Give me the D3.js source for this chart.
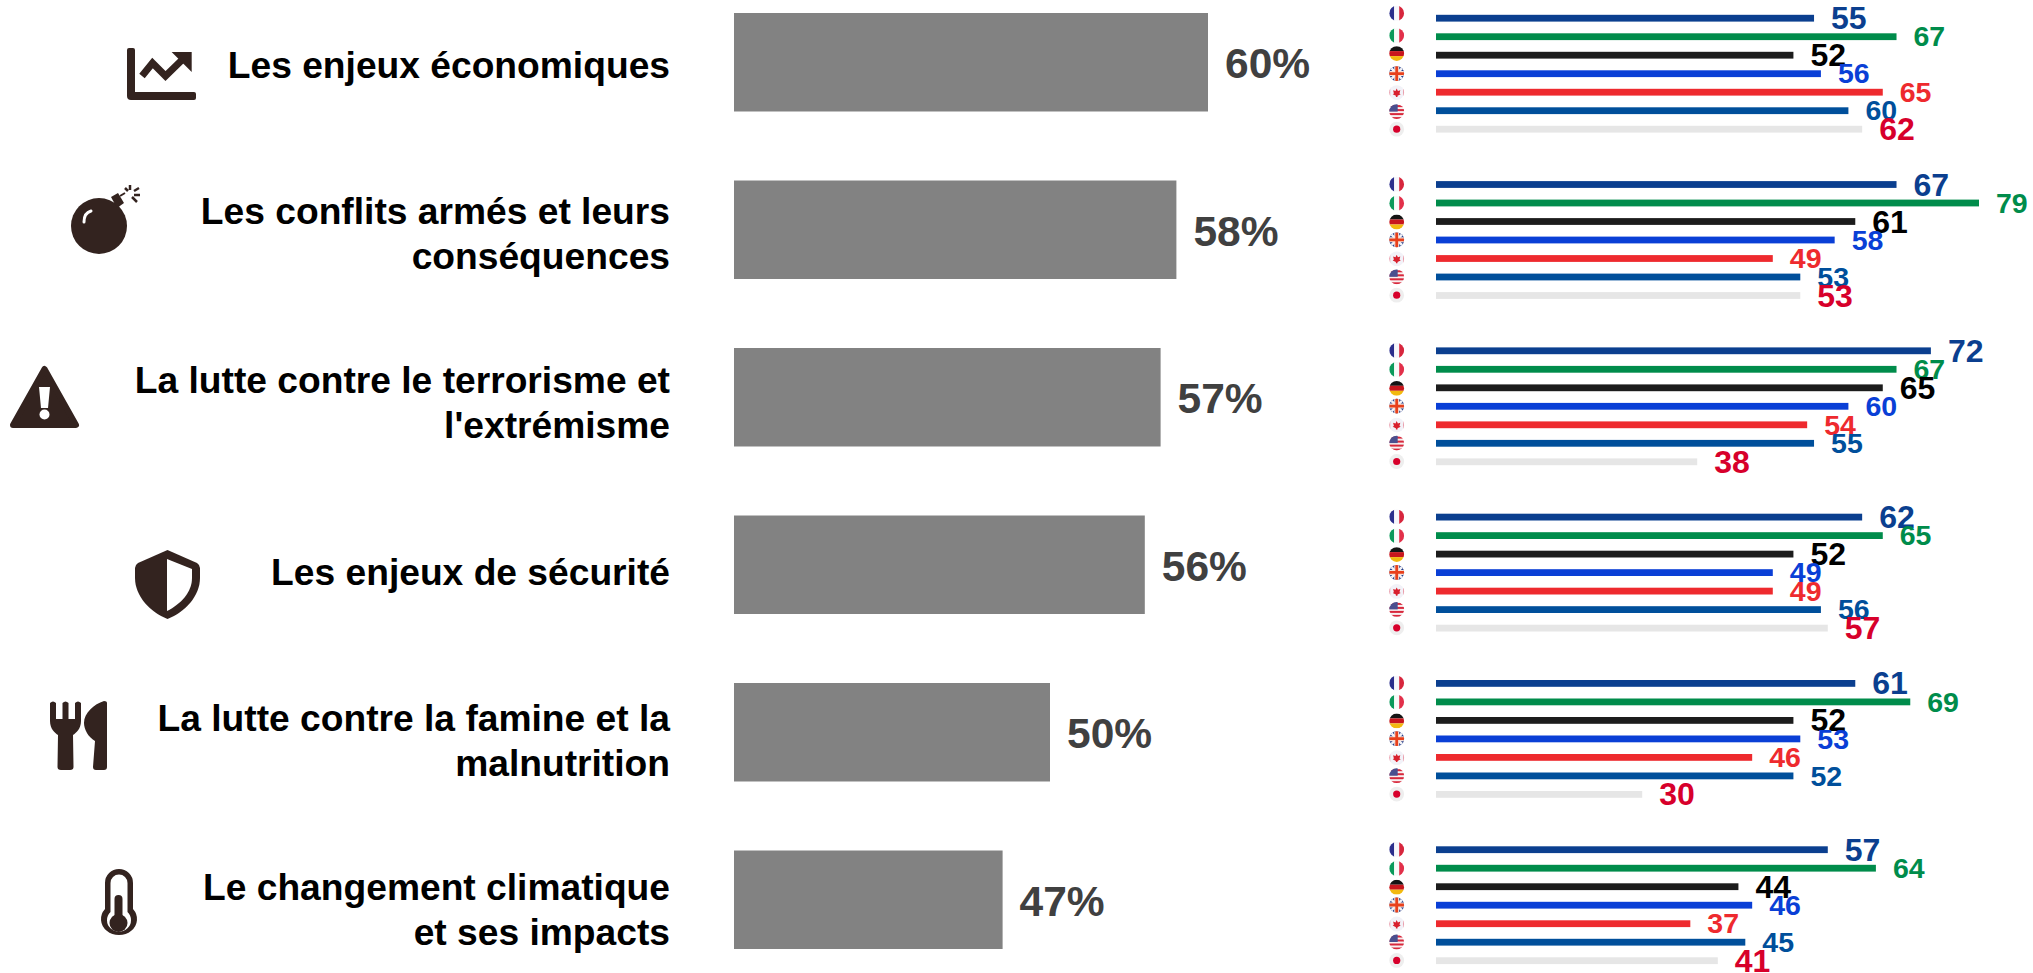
<html>
    <head>
        <title>Enjeux prioritaires</title>
        <script src="https://d3js.org/d3.v7.min.js"></script>
        <style>
            body {
                margin: 0;
                padding: 0;
                background: white;
                overflow: hidden;
            }
            text {
                font-family: "Liberation Sans", Arial, sans-serif;
                font-weight: bold;
            }
        </style>
    </head>
    <body>
        <svg id="chart" width="2033" height="973"></svg>
    </body>
    <script>
        // ---- DATA ----
        const categories = [
            ["Les enjeux économiques"],
            ["Les conflits armés et leurs", "conséquences"],
            ["La lutte contre le terrorisme et", "l'extrémisme"],
            ["Les enjeux de sécurité"],
            ["La lutte contre la famine et la", "malnutrition"],
            ["Le changement climatique", "et ses impacts"]
        ];
        const overall = [60, 58, 57, 56, 50, 47];

        const countries = ["France", "Italie", "Allemagne", "Royaume-Uni", "Canada", "Etats-Unis", "Japon"];
        const france = [55, 67, 72, 62, 61, 57];
        const italie = [67, 79, 67, 65, 69, 64];
        const allemagne = [52, 61, 65, 52, 52, 44];
        const royaumeUni = [56, 58, 60, 49, 53, 46];
        const canada = [65, 49, 54, 49, 46, 37];
        const etatsUnis = [60, 53, 55, 56, 52, 45];
        const japon = [62, 53, 38, 57, 30, 41];
        const seriesValues = [france, italie, allemagne, royaumeUni, canada, etatsUnis, japon];

        // ---- STYLES ----
        const barColors = ["#0b3f8f", "#008c4b", "#1c1c1c", "#0a3fd6", "#ee2a2e", "#004f9b", "#e6e6e6"];
        const labelColors = ["#0b3f8f", "#008c4b", "#000000", "#0a3fd6", "#ee2a2e", "#004f9b", "#d7002b"];
        const labelSizes = [32, 28.5, 32, 28.5, 28.5, 28.5, 32];
        // the first group's flags sit a little higher than the others
        const flagOffsetsFirst = [-5, 17.4, 35.4, 55.4, 74.4, 93.4, 111];
        const flagOffsets = [-0.3, 18.7, 37.5, 55.3, 74.3, 92.3, 110.7];
        const brown = "#33231f";

        const svg = d3.select("#chart");

        // ---- LEFT: ICONS AND LABELS ----
        const icons = [
            { x: 127, y: 48, draw: g => {
                g.append("path").attr("fill", brown)
                    .attr("d", "M0 2 Q0 0 2 0 H6 Q8 0 8 2 V44 H67 Q69 44 69 46 V50 Q69 52 67 52 H4 Q0 52 0 48 Z");
                g.append("path").attr("fill", "none").attr("stroke", brown).attr("stroke-width", 7)
                    .attr("d", "M15 28 L25.5 15 L38.5 28 L57 10");
                g.append("path").attr("fill", brown).attr("d", "M44.6 4 H64.7 V24 Z");
            }},
            { x: 71, y: 185, draw: g => {
                g.append("ellipse").attr("cx", 28).attr("cy", 41).attr("rx", 28).attr("ry", 28).attr("fill", brown);
                g.append("path").attr("fill", brown).attr("d", "M40 12 L47 8 L53 18 L46 23 Z");
                g.append("path").attr("fill", "none").attr("stroke", "white").attr("stroke-width", 3)
                    .attr("stroke-linecap", "round").attr("d", "M13 37 Q13 28 20 26");
                g.append("path").attr("fill", "none").attr("stroke", brown).attr("stroke-width", 2)
                    .attr("d", "M49 11 L54 8");
                g.append("path").attr("fill", "none").attr("stroke", brown).attr("stroke-width", 2.5)
                    .attr("d", "M59 0 V5 M68 3 L63 6 M69 10 H63 M66 17 L61 12 M54 3 L57 6");
            }},
            { x: 10, y: 366, draw: g => {
                g.append("path").attr("fill", brown).attr("stroke", brown).attr("stroke-width", 6)
                    .attr("stroke-linejoin", "round").attr("d", "M34.5 3 L66 59 H3 Z");
                g.append("path").attr("fill", "white").attr("d", "M29 21 H40 L38 42 H31 Z");
                g.append("circle").attr("cx", 34.5).attr("cy", 48.5).attr("r", 5).attr("fill", "white");
            }},
            { x: 135, y: 550, draw: g => {
                g.append("path").attr("fill", brown)
                    .attr("d", "M32.5 0 L62 13 Q65 15 65 18 V28 C65 46 50 62 32.5 69 C15 62 0 46 0 28 V18 Q0 15 3 13 Z");
                g.append("path").attr("fill", "white")
                    .attr("d", "M32 9 L57 19 V28 C57 42 46 54 32 61 Z");
            }},
            { x: 50, y: 701, draw: g => {
                g.append("path").attr("fill", brown)
                    .attr("d", "M0 2 Q3 -1 6 2 V18 H12.5 V2 Q15.5 -1 18.5 2 V18 H25 V2 Q28 -1 31 2 V20 C31 28 26 32 23 34 L23.5 66 Q23.5 69 20 69 H11 Q7.5 69 7.5 66 L8 34 C5 32 0 28 0 20 Z");
                g.append("path").attr("fill", brown)
                    .attr("d", "M57 2 V66 Q57 69 54 69 H46 Q43 69 43 66 L45 40 C38 36 34 28 34 22 C34 12 44 3 54 0 Q57 0 57 2 Z");
            }},
            { x: 101, y: 869, draw: g => {
                g.append("path").attr("fill", brown)
                    .attr("d", "M4 40 V14 A14 14 0 0 1 32 14 V40 A18 16 0 1 1 4 40 Z");
                g.append("path").attr("fill", "white")
                    .attr("d", "M9.5 43 V14 A8.5 8.5 0 0 1 26.5 14 V43 A12 11.5 0 1 1 9.5 43 Z");
                g.append("rect").attr("x", 13.5).attr("y", 26).attr("width", 8).attr("height", 28).attr("rx", 4).attr("fill", brown);
                g.append("circle").attr("cx", 17.5).attr("cy", 54).attr("r", 9).attr("fill", brown);
            }}
        ];

        icons.forEach(icon => {
            icon.draw(svg.append("g").attr("transform", "translate(" + icon.x + "," + icon.y + ")"));
        });

        const labelY = d3.scalePoint().domain(d3.range(categories.length)).range([77.5, 922.5]);

        svg.append("g").selectAll("text").data(categories)
            .join("text")
            .attr("text-anchor", "end")
            .attr("font-size", 37.2)
            .attr("fill", "black")
            .each(function(lines, i) {
                d3.select(this).selectAll("tspan").data(lines)
                    .join("tspan")
                    .attr("x", 670)
                    .attr("y", (d, j) => labelY(i) + (lines.length == 2 ? j * 45 - 22.5 : 0))
                    .text(d => d);
            });

        // ---- MIDDLE: OVERALL BARS ----
        // the bars do not start at zero in the original
        const x = d3.scaleLinear().domain([30, 60]).range([734, 1208]);
        const y = d3.scaleBand().domain(d3.range(overall.length))
            .range([-21.5, 983.5]).paddingInner(0.412).paddingOuter(0.206);

        svg.append("g").selectAll("rect").data(overall)
            .join("rect")
            .attr("x", x(30))
            .attr("y", (d, i) => y(i))
            .attr("width", d => x(d) - x(30))
            .attr("height", y.bandwidth())
            .attr("fill", "#828282");

        svg.append("g").selectAll("text").data(overall)
            .join("text")
            .attr("x", d => x(d) + 17)
            .attr("y", (d, i) => y(i) + y.bandwidth() / 2 + 16)
            .attr("font-size", 42.5)
            .attr("fill", "#404040")
            .text(d => d + "%");

        // ---- RIGHT: COUNTRY BARS ----
        const xSmall = d3.scaleLinear().domain([0, 79]).range([1436, 1979]);
        const groupY = d3.scalePoint().domain(d3.range(categories.length)).range([18.2, 849.7]);
        const rowY = d3.scalePoint().domain(countries).range([0, 111]);

        function bands(g, colors, vertical) {
            colors.forEach((c, i) => {
                g.append("rect")
                    .attr("x", vertical ? -7.5 + i * 5 : -8)
                    .attr("y", vertical ? -8 : -7.5 + i * 5)
                    .attr("width", vertical ? 5 : 16)
                    .attr("height", vertical ? 16 : 5)
                    .attr("fill", c);
            });
        }

        function plain(g, color) {
            g.append("rect").attr("x", -8).attr("y", -8).attr("width", 16).attr("height", 16).attr("fill", color);
        }

        const flagDraw = [
            g => { bands(g, ["#2b2e8c", "#f6f6fb", "#d7263d"], true); },
            g => { bands(g, ["#0a9a5a", "#f6fbf8", "#e2304a"], true); },
            g => { bands(g, ["#141414", "#c8161d", "#f2b90f"], false); },
            g => {
                plain(g, "#27408b");
                g.append("path").attr("stroke", "#f2f2f6").attr("stroke-width", 2.5).attr("d", "M-8 -8 L8 8 M8 -8 L-8 8");
                g.append("path").attr("stroke", "#f6e0d8").attr("stroke-width", 5).attr("d", "M0 -8 V8 M-8 0 H8");
                g.append("path").attr("stroke", "#e8401c").attr("stroke-width", 2.8).attr("d", "M0 -8 V8 M-8 0 H8");
            },
            g => {
                plain(g, "#f2f2f8");
                g.append("rect").attr("x", -8).attr("y", -8).attr("width", 1.5).attr("height", 16).attr("fill", "#e88a9a");
                g.append("rect").attr("x", 6.5).attr("y", -8).attr("width", 1.5).attr("height", 16).attr("fill", "#e88a9a");
                g.append("path").attr("fill", "#d8202e").attr("transform", "scale(0.8)")
                    .attr("d", "M0 -5 L1.5 -2 L4.5 -3 L3.5 1 L5 2 L1 4 V5.5 H-1 V4 L-5 2 L-3.5 1 L-4.5 -3 L-1.5 -2 Z");
            },
            g => {
                plain(g, "#f8f0f0");
                g.selectAll("rect.stripe").data(d3.range(4)).join("rect").attr("class", "stripe")
                    .attr("x", -8).attr("y", d => -6.5 + d * 4).attr("width", 16).attr("height", 2).attr("fill", "#d8283c");
                g.append("rect").attr("x", -8).attr("y", -8).attr("width", 9).attr("height", 8).attr("fill", "#4a4f8f");
            },
            g => {
                plain(g, "#eeeeee");
                g.append("circle").attr("r", 3.6).attr("fill", "#d7002b");
            }
        ];

        const defs = svg.append("defs");
        defs.append("clipPath").attr("id", "flagClip").append("circle").attr("r", 7.4);

        categories.forEach((cat, i) => {
            const group = svg.append("g").attr("transform", "translate(0," + groupY(i) + ")");
            const offsets = i == 0 ? flagOffsetsFirst : flagOffsets;

            group.selectAll("rect").data(countries)
                .join("rect")
                .attr("x", xSmall(0))
                .attr("y", d => rowY(d) - 3.4)
                .attr("width", (d, k) => xSmall(seriesValues[k][i]) - xSmall(0))
                .attr("height", 6.8)
                .attr("fill", (d, k) => barColors[k]);

            group.selectAll("g.flag").data(countries)
                .join("g")
                .attr("class", "flag")
                .attr("transform", (d, k) => "translate(1396.7," + offsets[k] + ")")
                .each(function(d, k) {
                    const f = d3.select(this).append("g").attr("clip-path", "url(#flagClip)");
                    flagDraw[k](f);
                });
        });

        // values go on last, they overlap the neighbouring bars
        categories.forEach((cat, i) => {
            svg.append("g").attr("transform", "translate(0," + groupY(i) + ")")
                .selectAll("text").data(countries)
                .join("text")
                .attr("x", (d, k) => xSmall(seriesValues[k][i]) + 17)
                .attr("y", d => rowY(d) - 0.5)
                .attr("dy", "0.36em")
                .attr("font-size", (d, k) => labelSizes[k])
                .attr("fill", (d, k) => labelColors[k])
                .text((d, k) => seriesValues[k][i]);
        });
    </script>
</html>
